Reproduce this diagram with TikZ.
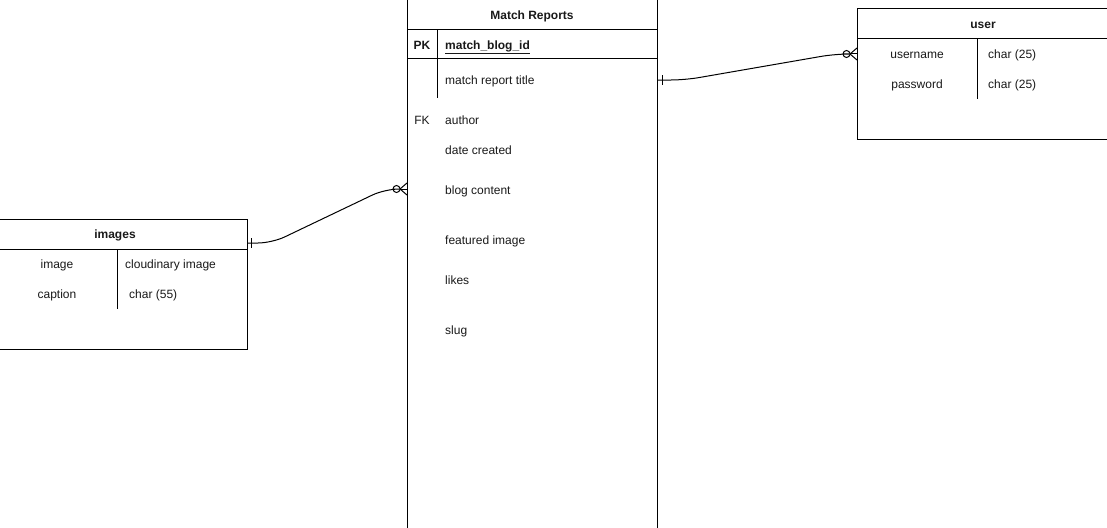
\documentclass[tikz,border=0pt]{standalone}
\usepackage{fontspec}
\setmainfont{Liberation Sans}
\usetikzlibrary{calc}
\begin{document}
\begin{tikzpicture}[x=1pt,y=-1pt,
  tbl/.style={draw=black,line width=1pt,anchor=north west,inner sep=0pt,outer sep=0pt},
  hdr/.style={font=\fontsize{12}{14}\selectfont\bfseries,inner sep=0pt,anchor=base,text=black!90},
  fld/.style={font=\fontsize{12}{14}\selectfont,inner sep=0pt,anchor=base,text=black!90},
  fldl/.style={fld,anchor=base west},
  ln/.style={line width=1pt},
  conn/.style={line width=1pt,rounded corners=14pt}]
\useasboundingbox (0,0) rectangle (1107,527);
\clip (0,0) rectangle (1107,527);

% Match Reports table
\node[tbl,minimum width=250pt,minimum height=600pt] (mr) at (407,-1) {};
\node[hdr] (mrh) at (532,19.5) {Match Reports};
\draw[ln] (407,30) -- (657,30);
\draw[ln] (407,59) -- (657,59);
\draw[ln] (437,30) -- (437,98);
\node[hdr] (pk) at (422,49.5) {PK};
\node[hdr,anchor=base west] (mbid) at (445,49.5) {\underline{match\_blog\_id}};
\node[fldl] (ttl) at (445,84.5) {match report title};
\node[fld] (fk) at (422,124.5) {FK};
\node[fldl] (auth) at (445,124.5) {author};
\node[fldl] (date) at (445,154.5) {date created};
\node[fldl] (blog) at (445,194.5) {blog content};
\node[fldl] (feat) at (445,244.5) {featured image};
\node[fldl] (likes) at (445,284.5) {likes};
\node[fldl] (slug) at (445,334.5) {slug};

% user table
\node[tbl,minimum width=262pt,minimum height=130pt] (user) at (857,9) {};
\node[hdr] (userh) at (983,28.5) {user};
\draw[ln] (857,39) -- (1110,39);
\draw[ln] (977,39) -- (977,99);
\node[fld] (uname) at (917,58.5) {username};
\node[fldl] (utype) at (988,58.5) {char (25)};
\node[fld] (pwd) at (917,88.5) {password};
\node[fldl] (ptype) at (988,88.5) {char (25)};

% images table
\node[tbl,minimum width=257pt,minimum height=130pt] (img) at (-10,219) {};
\node[hdr] (imgh) at (115,238.5) {images};
\draw[ln] (-10,249) -- (247,249);
\draw[ln] (117,249) -- (117,309);
\node[fld] (imname) at (57,268.5) {image};
\node[fldl] (imtype) at (125,268.5) {cloudinary image};
\node[fld] (cap) at (57,298.5) {caption};
\node[fldl] (captype) at (129,298.5) {char (55)};

% connector: Match Reports -> user
\coordinate (c1a) at (657,80);
\coordinate (c1b) at (857,54);
\draw[conn] (c1a) -- ++(28,0) -- (835,54) -- ($(c1b)+(-14,0)$);
\draw[ln] ($(c1a)+(5,-5)$) -- ($(c1a)+(5,5)$);
\draw[ln] ($(c1b)+(-10.5,0)$) circle (3.5pt);
\draw[ln] ($(c1b)+(-7,0)$) -- ($(c1b)+(0,-6)$);
\draw[ln] ($(c1b)+(-7,0)$) -- (c1b);
\draw[ln] ($(c1b)+(-7,0)$) -- ($(c1b)+(0,6)$);

% connector: images -> Match Reports
\coordinate (c2a) at ($(img.north east)+(0,24)$);
\coordinate (c2b) at (407,189);
\draw[conn] (c2a) -- ++(25,0) -- (385,189) -- ($(c2b)+(-14,0)$);
\draw[ln] ($(c2a)+(4,-5)$) -- ($(c2a)+(4,5)$);
\draw[ln] ($(c2b)+(-10.5,0)$) circle (3.5pt);
\draw[ln] ($(c2b)+(-7,0)$) -- ($(c2b)+(0,-6)$);
\draw[ln] ($(c2b)+(-7,0)$) -- (c2b);
\draw[ln] ($(c2b)+(-7,0)$) -- ($(c2b)+(0,6)$);
\end{tikzpicture}
\end{document}
